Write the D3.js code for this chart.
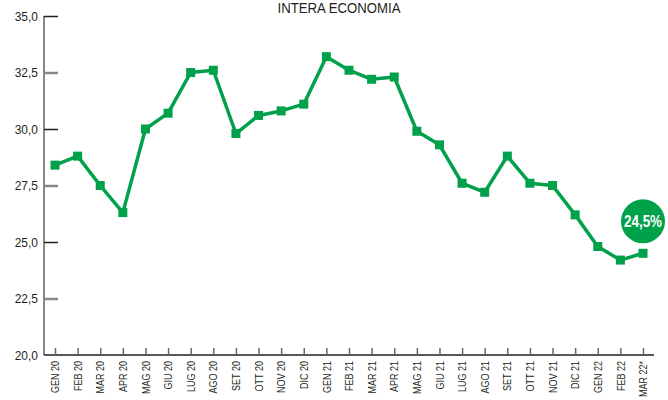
<!DOCTYPE html>
<html>
<head>
<meta charset="utf-8">
<script src="https://cdn.jsdelivr.net/npm/d3@7"></script>
<style>
  body { margin: 0; background: #fff; }
  svg { display: block; font-family: "Liberation Sans", Arial, sans-serif; }
</style>
</head>
<body>
<svg width="668" height="400"></svg>
<script>
let months = ["GEN 20","FEB 20","MAR 20","APR 20","MAG 20","GIU 20","LUG 20","AGO 20","SET 20","OTT 20","NOV 20","DIC 20",
  "GEN 21","FEB 21","MAR 21","APR 21","MAG 21","GIU 21","LUG 21","AGO 21","SET 21","OTT 21","NOV 21","DIC 21",
  "GEN 22","FEB 22","MAR 22*"];
let values = [28.4,28.8,27.5,26.3,30.0,30.7,32.5,32.6,29.8,30.6,30.8,31.1,
  33.2,32.6,32.2,32.3,29.9,29.3,27.6,27.2,28.8,27.6,27.5,26.2,
  24.8,24.2,24.5];
let yTicks = [20, 22.5, 25, 27.5, 30, 32.5, 35];
let title = "INTERA ECONOMIA";
let badge = "24,5%";

let svg = d3.select("svg"),
    margin = {top: 16, right: 13, bottom: 45, left: 44},
    width = 668 - margin.left - margin.right,
    height = 400 - margin.top - margin.bottom;

let green = "#00a14b";

let x = d3.scalePoint().domain(months).range([11, 599]);
let y = d3.scaleLinear().domain([20, 35]).range([height, 0]);

let g = svg.append("g")
    .attr("transform", "translate(" + margin.left + "," + margin.top + ")");

// title, tight against the top edge
svg.append("text")
    .attr("transform", "translate(339,13) scale(0.88,1)")
    .attr("text-anchor", "middle")
    .style("font-size", "15px")
    .style("fill", "#231f20")
    .text(title);

// y axis
let yAxis = d3.axisRight(y)
    .tickValues(yTicks)
    .tickSize(14)
    .tickFormat(function(d) { return d3.format(".1f")(d).replace(".", ","); });

let ya = g.append("g").attr("class", "axis axis--y").call(yAxis);
ya.select(".domain").attr("stroke", "#888").attr("stroke-width", 2).attr("d", "M0,0V" + height);
ya.selectAll(".tick line")
    .attr("stroke", function(d) { return d % 5 === 0 ? "#231f20" : "#888"; })
    .attr("stroke-width", function(d) { return d % 5 === 0 ? 1.5 : 2.5; });
ya.selectAll(".tick text")
    .attr("x", null)
    .attr("transform", "translate(-6,0) scale(0.92,1)")
    .attr("text-anchor", "end")
    .style("font-size", "13px")
    .style("fill", "#231f20");
ya.selectAll(".tick").filter(function(d) { return d === 20; }).select("line").remove();

// x axis
let xAxis = d3.axisBottom(x).tickSize(0);
let xa = g.append("g")
    .attr("class", "axis axis--x")
    .attr("transform", "translate(0," + height + ")")
    .call(xAxis);
xa.select(".domain").attr("stroke", "#231f20").attr("stroke-width", 1.5).attr("d", "M0,0H" + (width - 1));
xa.selectAll(".tick").append("line")
    .attr("y1", 0).attr("y2", -7)
    .attr("stroke", "#666").attr("stroke-width", 1.5);
xa.selectAll(".tick text")
    .attr("transform", "translate(0,6) rotate(-90) scale(0.86,1)")
    .attr("x", 0)
    .attr("y", 0)
    .attr("dy", "0.35em")
    .attr("text-anchor", "end")
    .style("font-size", "10.5px")
    .style("fill", "#231f20");

// line
let line = d3.line()
    .x(function(d, i) { return x(months[i]); })
    .y(function(d) { return y(d); });

g.append("path")
    .datum(values)
    .attr("fill", "none")
    .attr("stroke", green)
    .attr("stroke-width", 3.5)
    .attr("stroke-linejoin", "round")
    .attr("d", line);

g.selectAll("rect.pt")
    .data(values)
    .enter()
    .append("rect")
    .attr("class", "pt")
    .attr("x", function(d, i) { return x(months[i]) - 4.5; })
    .attr("y", function(d) { return y(d) - 4.5; })
    .attr("width", 9)
    .attr("height", 9)
    .attr("fill", green);

// badge
let last = months[months.length - 1];
let bx = x(last), by = y(values[values.length - 1]) - 32;
g.append("circle")
    .attr("cx", bx)
    .attr("cy", by)
    .attr("r", 22)
    .attr("fill", green);
g.append("text")
    .attr("transform", "translate(" + bx + "," + by + ") scale(0.84,1)")
    .attr("dy", "0.36em")
    .attr("text-anchor", "middle")
    .style("font-size", "16px")
    .style("font-weight", "bold")
    .style("fill", "#fff")
    .text(badge);
</script>
</body>
</html>
